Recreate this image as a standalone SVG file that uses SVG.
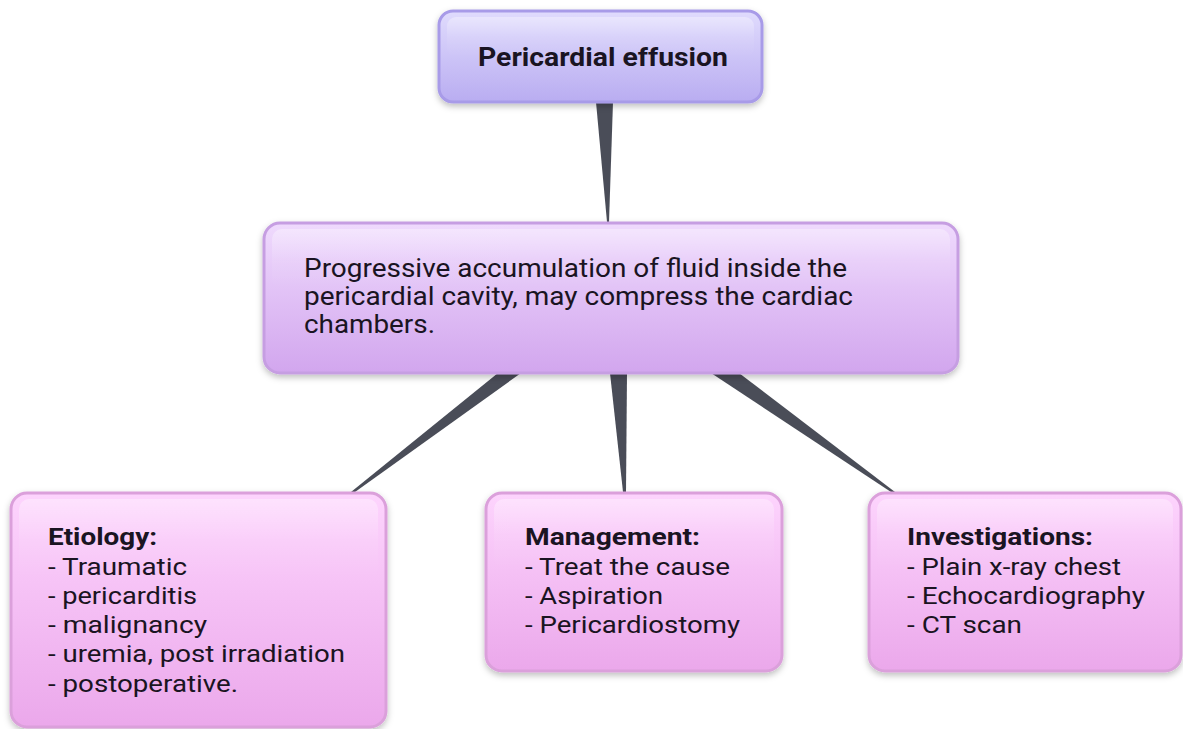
<svg xmlns="http://www.w3.org/2000/svg" width="1183" height="729" viewBox="0 0 1183 729">
  <defs>
    <linearGradient id="gTop" x1="0" y1="0" x2="0" y2="1">
      <stop offset="0" stop-color="#e0dbfd"/>
      <stop offset="1" stop-color="#b9adf1"/>
    </linearGradient>
    <linearGradient id="gMid" x1="0" y1="0" x2="0" y2="1">
      <stop offset="0" stop-color="#efdafd"/>
      <stop offset="1" stop-color="#d2a6ee"/>
    </linearGradient>
    <linearGradient id="gBot" x1="0" y1="0" x2="0" y2="1">
      <stop offset="0" stop-color="#fdd4fd"/>
      <stop offset="1" stop-color="#eba8eb"/>
    </linearGradient>
    <linearGradient id="gHi" x1="0" y1="0" x2="0" y2="1">
      <stop offset="0" stop-color="#ffffff" stop-opacity="0.35"/>
      <stop offset="0.5" stop-color="#ffffff" stop-opacity="0.08"/>
      <stop offset="1" stop-color="#ffffff" stop-opacity="0"/>
    </linearGradient>
    <filter id="shadow" x="-10%" y="-10%" width="120%" height="130%">
      <feDropShadow dx="0" dy="3" stdDeviation="3" flood-color="#000000" flood-opacity="0.25"/>
    </filter>
  </defs>
  <style>
    .conn { fill: #4a4d58; }
    .box { stroke-width: 3; filter: url(#shadow); }
    .top { fill: url(#gTop); stroke: #a89be8; }
    .mid { fill: url(#gMid); stroke: #c69ee2; }
    .bot { fill: url(#gBot); stroke: #dba0db; }
    .hi { fill: url(#gHi); stroke: none; }
    text { font-family: Roboto, "Liberation Sans", Arial, sans-serif; fill: #1a1422; }
    .title { font-size: 25px; font-weight: bold; }
    .body { font-size: 26px; }
    .hd { font-size: 24px; font-weight: bold; }
    .it { font-size: 24px; }
  </style>

  <g id="connectors">
    <polygon class="conn" points="596,102 613,102 609,222 607,222"/>
    <polygon class="conn" points="498,373 521,373 355,492 351,492"/>
    <polygon class="conn" points="610,373 627,373 626,492 623,492"/>
    <polygon class="conn" points="711,373 739,373 895,492 891,492"/>
  </g>

  <g id="node-top">
    <rect class="box top" x="439" y="11" width="323" height="91" rx="14"/>
    <rect class="hi" x="447" y="17" width="307" height="40" rx="9"/>
    <text class="title" x="478" y="66" textLength="250" lengthAdjust="spacingAndGlyphs">Pericardial effusion</text>
  </g>

  <g id="node-definition">
    <rect class="box mid" x="264" y="223" width="694" height="150" rx="16"/>
    <rect class="hi" x="272" y="229" width="678" height="60" rx="10"/>
    <text class="body" x="304" y="277" textLength="543" lengthAdjust="spacingAndGlyphs">Progressive accumulation of fluid inside the</text>
    <text class="body" x="304" y="305" textLength="549" lengthAdjust="spacingAndGlyphs">pericardial cavity, may compress the cardiac</text>
    <text class="body" x="304" y="333" textLength="131" lengthAdjust="spacingAndGlyphs">chambers.</text>
  </g>

  <g id="node-etiology">
    <rect class="box bot" x="11" y="493" width="375" height="234" rx="16"/>
    <rect class="hi" x="19" y="499" width="359" height="80" rx="10"/>
    <text class="hd" x="48" y="545" textLength="109" lengthAdjust="spacingAndGlyphs">Etiology:</text>
    <text class="it" x="48" y="575" textLength="139" lengthAdjust="spacingAndGlyphs">- Traumatic</text>
    <text class="it" x="48" y="604" textLength="149" lengthAdjust="spacingAndGlyphs">- pericarditis</text>
    <text class="it" x="48" y="633" textLength="159" lengthAdjust="spacingAndGlyphs">- malignancy</text>
    <text class="it" x="48" y="662" textLength="297" lengthAdjust="spacingAndGlyphs">- uremia, post irradiation</text>
    <text class="it" x="48" y="692" textLength="190" lengthAdjust="spacingAndGlyphs">- postoperative.</text>
  </g>

  <g id="node-management">
    <rect class="box bot" x="486" y="493" width="296" height="178" rx="16"/>
    <rect class="hi" x="494" y="499" width="280" height="70" rx="10"/>
    <text class="hd" x="525" y="545" textLength="175" lengthAdjust="spacingAndGlyphs">Management:</text>
    <text class="it" x="525" y="575" textLength="205" lengthAdjust="spacingAndGlyphs">- Treat the cause</text>
    <text class="it" x="525" y="604" textLength="138" lengthAdjust="spacingAndGlyphs">- Aspiration</text>
    <text class="it" x="525" y="633" textLength="215" lengthAdjust="spacingAndGlyphs">- Pericardiostomy</text>
  </g>

  <g id="node-investigations">
    <rect class="box bot" x="869" y="493" width="312" height="178" rx="16"/>
    <rect class="hi" x="877" y="499" width="296" height="70" rx="10"/>
    <text class="hd" x="907" y="545" textLength="186" lengthAdjust="spacingAndGlyphs">Investigations:</text>
    <text class="it" x="907" y="575" textLength="214" lengthAdjust="spacingAndGlyphs">- Plain x-ray chest</text>
    <text class="it" x="907" y="604" textLength="238" lengthAdjust="spacingAndGlyphs">- Echocardiography</text>
    <text class="it" x="907" y="633" textLength="115" lengthAdjust="spacingAndGlyphs">- CT scan</text>
  </g>
</svg>
